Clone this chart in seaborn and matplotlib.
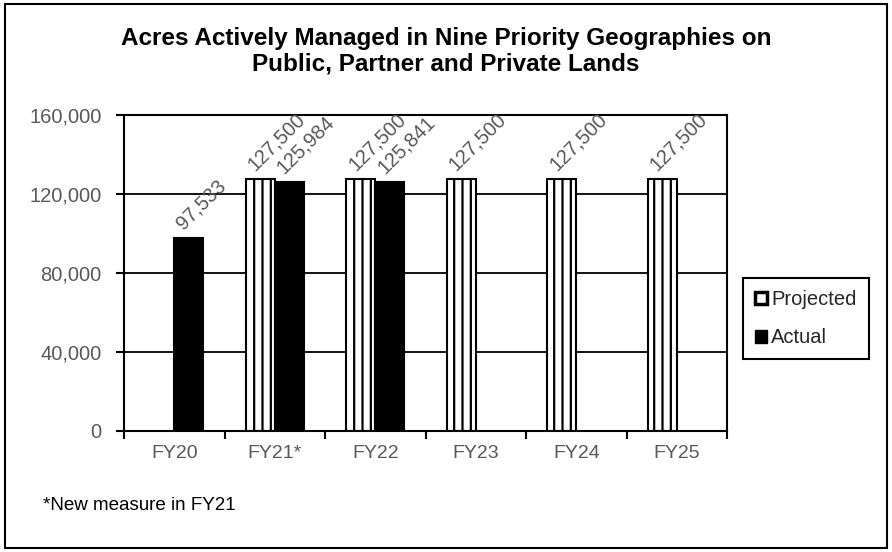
import matplotlib
matplotlib.use("Agg")
import matplotlib.pyplot as plt
import seaborn as sns
import pandas as pd
import numpy as np
from matplotlib.patches import Rectangle, Patch
from matplotlib.ticker import FuncFormatter, FixedLocator

categories = ["FY20", "FY21*", "FY22", "FY23", "FY24", "FY25"]
projected = [None, 127500, 127500, 127500, 127500, 127500]
actual = [97533, 125984, 125841, None, None, None]
series = ["Projected", "Actual"]
title = "Acres Actively Managed in Nine Priority Geographies on\nPublic, Partner and Private Lands"
footnote = "*New measure in FY21"

rows = []
for c, p, a in zip(categories, projected, actual):
    if p is not None:
        rows.append({"Year": c, "Series": "Projected", "Acres": p})
    if a is not None:
        rows.append({"Year": c, "Series": "Actual", "Acres": a})
df = pd.DataFrame(rows)

sns.set_theme(style="white")
plt.rcParams["font.family"] = ["Liberation Sans", "DejaVu Sans"]
plt.rcParams["hatch.linewidth"] = 1.6
plt.rcParams["hatch.color"] = "black"

fig = plt.figure(figsize=(8.92, 5.52), dpi=100)
fig.patch.set_facecolor("white")
ax = fig.add_axes([124/892, 1-431/552, (727-124)/892, (431-115)/552])

sns.barplot(data=df, x="Year", y="Acres", hue="Series", order=categories,
            hue_order=series, palette={"Projected": "white", "Actual": "black"},
            width=0.58, edgecolor="black", linewidth=1.5, ax=ax, legend=False,
            errorbar=None, saturation=1)

for patch in ax.containers[0]:
    patch.set_hatch("||")
    patch.set_edgecolor("black")

gray = "#595959"
for cont in ax.containers:
    for patch in cont:
        h = patch.get_height()
        if np.isnan(h) or h == 0:
            continue
        xc = patch.get_x() + patch.get_width() / 2
        ax.annotate(f"{int(h):,}", xy=(xc, h), xytext=(-3.8, 6.0),
                    textcoords="offset points", rotation=45,
                    rotation_mode="anchor", ha="left", va="baseline",
                    fontsize=14.5, color=gray)

ax.set_ylim(0, 160000)
ax.set_xlim(-0.5, len(categories) - 0.5)
ax.set_yticks([0, 40000, 80000, 120000, 160000])
ax.yaxis.set_major_formatter(FuncFormatter(lambda v, p: f"{int(v):,}"))
ax.yaxis.grid(True, color="black", linewidth=1.3)
ax.set_axisbelow(True)
ax.set_xlabel("")
ax.set_ylabel("")

ax.xaxis.set_minor_locator(FixedLocator(np.arange(-0.5, len(categories), 1.0)))
ax.tick_params(axis="x", which="major", length=0, pad=10, labelsize=14, labelcolor=gray)
ax.tick_params(axis="x", which="minor", length=6, width=1.5, color="black", direction="out", bottom=True)
ax.tick_params(axis="y", which="major", length=6, width=1.5, color="black", direction="out",
               left=True, pad=10, labelsize=14.5, labelcolor=gray)

for side in ["left", "right", "bottom", "top"]:
    ax.spines[side].set_visible(True)
    ax.spines[side].set_color("black")
    ax.spines[side].set_linewidth(1.5)

handles = [Patch(facecolor="white", edgecolor="black", linewidth=2.5),
           Patch(facecolor="black", edgecolor="black", linewidth=1.0)]
leg = fig.legend(handles, series, loc="upper left",
                 bbox_to_anchor=(743/892, 1-278/552), frameon=True,
                 fontsize=14.5, handlelength=0.6, handleheight=0.6,
                 handletextpad=0.2, labelspacing=0.95, borderpad=0.6,
                 fancybox=False, framealpha=1, borderaxespad=0)
leg.get_frame().set_edgecolor("black")
leg.get_frame().set_linewidth(1.5)
for t in leg.get_texts():
    t.set_color("#262626")

fig.text(0.5, 1-51/552, title, ha="center", va="center", fontsize=17.5,
         fontweight="bold", color="black", linespacing=1.15)
fig.text(43/892, 1-510/552, footnote, ha="left", va="baseline", fontsize=13.5,
         color="black")

fig.patches.append(Rectangle((5/892, 4/552), 882/892, 544/552, transform=fig.transFigure,
                             fill=False, edgecolor="black", linewidth=1.5))

fig.savefig("out.png", dpi=100, facecolor="white")
